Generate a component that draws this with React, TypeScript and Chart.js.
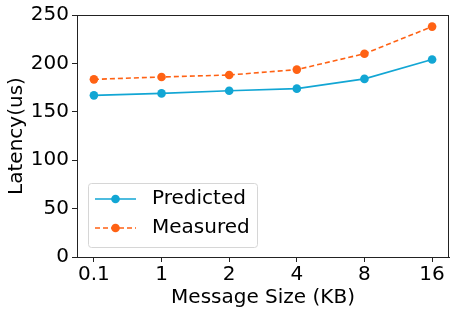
import React, { useEffect, useRef } from "react";
import { Chart, registerables } from "chart.js";

Chart.register(...registerables);

const categories = ["0.1", "1", "2", "4", "8", "16"];
const predicted = [167, 169, 171.8, 173.9, 184, 204];
const measured = [183.5, 186, 188, 193.6, 210, 238];
const yTicks = [0, 50, 100, 150, 200, 250];

const FONT = "'DejaVu Sans', sans-serif";
const FS = 20;
const CYAN = "#12a6d4";
const ORANGE = "#ff6214";

const framePlugin = {
  id: "frame",
  afterDraw(chart: any) {
    const { ctx, chartArea: a } = chart;
    ctx.save();
    ctx.strokeStyle = "#222";
    ctx.lineWidth = 1;
    ctx.strokeRect(a.left + 0.5, a.top + 0.5, a.right - a.left - 1, a.bottom - a.top);
    // legend
    const bx = a.left + 11, by = a.top + 168, bw = 169, bh = 64;
    ctx.fillStyle = "rgba(255,255,255,0.8)";
    ctx.strokeStyle = "#d6d6d6";
    ctx.beginPath();
    ctx.roundRect(bx + 0.5, by + 0.5, bw, bh, 3);
    ctx.fill();
    ctx.stroke();
    const items = [
      { label: "Predicted", color: CYAN, dash: [] as number[] },
      { label: "Measured", color: ORANGE, dash: [5, 3] },
    ];
    items.forEach((it, i) => {
      const y = by + 16 + i * 29;
      ctx.strokeStyle = it.color;
      ctx.lineWidth = 1.6;
      ctx.setLineDash(it.dash);
      ctx.beginPath();
      ctx.moveTo(bx + 7, y);
      ctx.lineTo(bx + 48, y);
      ctx.stroke();
      ctx.setLineDash([]);
      ctx.fillStyle = it.color;
      ctx.beginPath();
      ctx.arc(bx + 27.5, y, 4.3, 0, Math.PI * 2);
      ctx.fill();
      ctx.fillStyle = "#000";
      ctx.font = `${FS}px ${FONT}`;
      ctx.textBaseline = "middle";
      ctx.textAlign = "left";
      ctx.fillText(it.label, bx + 64, y);
    });
    ctx.restore();
  },
};

export default function App() {
  const ref = useRef<HTMLCanvasElement>(null);
  useEffect(() => {
    const chart = new Chart(ref.current!, {
      type: "line",
      data: {
        datasets: [
          {
            label: "Predicted",
            data: predicted.map((v, i) => ({ x: i, y: v })),
            borderColor: CYAN,
            backgroundColor: CYAN,
            borderWidth: 1.6,
            pointRadius: 4.3,
            pointBorderWidth: 0,
          },
          {
            label: "Measured",
            data: measured.map((v, i) => ({ x: i, y: v })),
            borderColor: ORANGE,
            backgroundColor: ORANGE,
            borderWidth: 1.6,
            borderDash: [5, 3],
            pointRadius: 4.3,
            pointBorderWidth: 0,
          },
        ],
      },
      options: {
        animation: false,
        responsive: false,
        layout: { padding: { left: 0, top: 15, right: 8, bottom: 0 } },
        plugins: { legend: { display: false }, tooltip: { enabled: false } },
        scales: {
          x: {
            type: "linear",
            min: -0.25,
            max: categories.length - 0.75,
            afterBuildTicks: (s: any) => {
              s.ticks = categories.map((_, i) => ({ value: i }));
            },
            afterFit: (s: any) => {
              s.height = 59;
            },
            grid: { drawOnChartArea: false, tickLength: 5, color: "#222" },
            border: { color: "#222" },
            ticks: {
              autoSkip: false,
              maxRotation: 0,
              padding: 1,
              color: "#000",
              font: { family: FONT, size: FS },
              callback: (v: any) => categories[v] ?? "",
            },
            title: {
              display: true,
              text: "Message Size (KB)",
              color: "#000",
              font: { family: FONT, size: FS },
              padding: { top: 0, bottom: 6 },
            },
          },
          y: {
            min: 0,
            max: 250,
            afterBuildTicks: (s: any) => {
              s.ticks = yTicks.map((v) => ({ value: v }));
            },
            afterFit: (s: any) => {
              s.width = 77;
            },
            grid: { drawOnChartArea: false, tickLength: 5, color: "#222" },
            border: { color: "#222" },
            ticks: {
              padding: 3,
              color: "#000",
              font: { family: FONT, size: FS },
            },
            title: {
              display: true,
              text: "Latency(us)",
              color: "#000",
              font: { family: FONT, size: FS },
              padding: { top: 5, bottom: 0 },
            },
          },
        },
      },
      plugins: [framePlugin],
    });
    return () => chart.destroy();
  }, []);
  return (
    <div style={{ position: "fixed", left: 0, top: 0, width: 457, height: 316, background: "#fff" }}>
      <canvas ref={ref} width={457} height={316} />
    </div>
  );
}
